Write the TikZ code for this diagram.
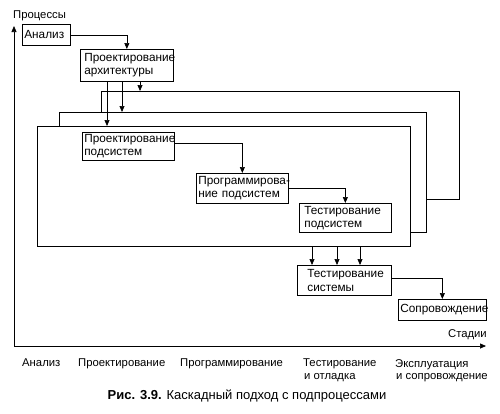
\documentclass[tikz,border=0pt]{standalone}
\usepackage{fontspec}
\setmainfont{Liberation Sans}
\usetikzlibrary{arrows.meta}
\tikzset{
  box/.style={draw, line width=0.7pt, anchor=north west, align=left, inner xsep=2pt, inner ysep=1pt, font=\fontsize{11.8}{13.3}\selectfont},
  arr/.style={line width=0.7pt, -{Triangle[length=6pt,width=5pt]}},
  frame/.style={line width=0.7pt},
  lbl/.style={font=\fontsize{11.3}{12.5}\selectfont, align=left, inner sep=0pt}
}
\begin{document}
\begin{tikzpicture}[x=1pt,y=-1pt]
\useasboundingbox (0,0) rectangle (500,413);
% axes
\coordinate (o) at (14,346);
\coordinate (ytip) at (14,26);
\coordinate (xtip) at (486,346);
\draw[arr] (o) -- (ytip);
\draw[arr] (o) -- (xtip);
\node[lbl, anchor=west] (proc) at (13,16) {Процессы};
\node[lbl, anchor=east] (stad) at (487,335) {Стадии};
% frames
\draw[frame] (101,112) -- (101,91) -- (459,91) -- (459,199) -- (426,199);
\draw[frame] (59,126) -- (59,112) -- (426,112) -- (426,232) -- (410,232);
\draw[frame] (37,126) rectangle (410,246);
\coordinate (f3) at (140,91);
\coordinate (f2) at (122,112);
\coordinate (f1) at (107,126);
\coordinate (b1) at (312,246);
\coordinate (b2) at (337,246);
\coordinate (b3) at (360,246);
% boxes
\node[box, minimum width=48pt, minimum height=21pt, text width=44pt] (an) at (22,24) {Анализ};
\node[box, minimum width=93pt, minimum height=32pt, text width=89pt] (arch) at (80,49) {\hspace*{2pt}\mbox{Проектирование}\\\hspace*{2pt}архитектуры};
\node[box, minimum width=92pt, minimum height=28pt, text width=88pt] (pods) at (82,132) {\mbox{Проектирование}\\подсистем};
\node[box, minimum width=92pt, minimum height=30pt, text width=88pt] (prog) at (196,173) {\mbox{Программирова-}\\\mbox{ние подсистем}};
\node[box, minimum width=92pt, minimum height=29pt, text width=88pt] (testp) at (299,203) {\hspace*{3pt}Тестирование\\\hspace*{3pt}подсистем};
\node[box, minimum width=94pt, minimum height=30pt, text width=90pt] (tests) at (297,265) {\hspace*{8pt}Тестирование\\\hspace*{8pt}системы};
\node[box, minimum width=88pt, minimum height=21pt, text width=84pt] (sopr) at (398,299) {\mbox{Сопровождение}};
% connectors
\draw[arr] (an.east) -| (arch.north);
\draw[arr] (arch.south -| f1) -- (f1);
\draw[arr] (arch.south -| f2) -- (f2);
\draw[arr] (arch.south -| f3) -- (f3);
\draw[arr] ([yshift=3pt]pods.east) -| (prog.north);
\draw[arr] (prog.east) -| (testp.north);
\draw[arr] (b1) -- (tests.north -| b1);
\draw[arr] (b2) -- (tests.north -| b2);
\draw[arr] (b3) -- (tests.north -| b3);
\draw[arr] ([yshift=2pt]tests.east) -| (sopr.north);
% stage labels
\node[lbl, anchor=north west] (s1) at (22,359) {Анализ};
\node[lbl, anchor=north west] (s2) at (78,359) {Проектирование};
\node[lbl, anchor=north west] (s3) at (180,359) {Программирование};
\node[lbl, anchor=north west] (s4) at (303,359) {Тестирование\\\hspace*{1pt}и отладка};
\node[lbl, anchor=north west] (s5) at (395,359) {Эксплуатация\\\hspace*{1pt}и сопровождение};
% caption
\node[lbl, anchor=center, font=\fontsize{13}{15}\selectfont] (cap) at (247,396) {\textbf{Рис. 3.9.} Каскадный подход с подпроцессами};
\end{tikzpicture}
\end{document}
